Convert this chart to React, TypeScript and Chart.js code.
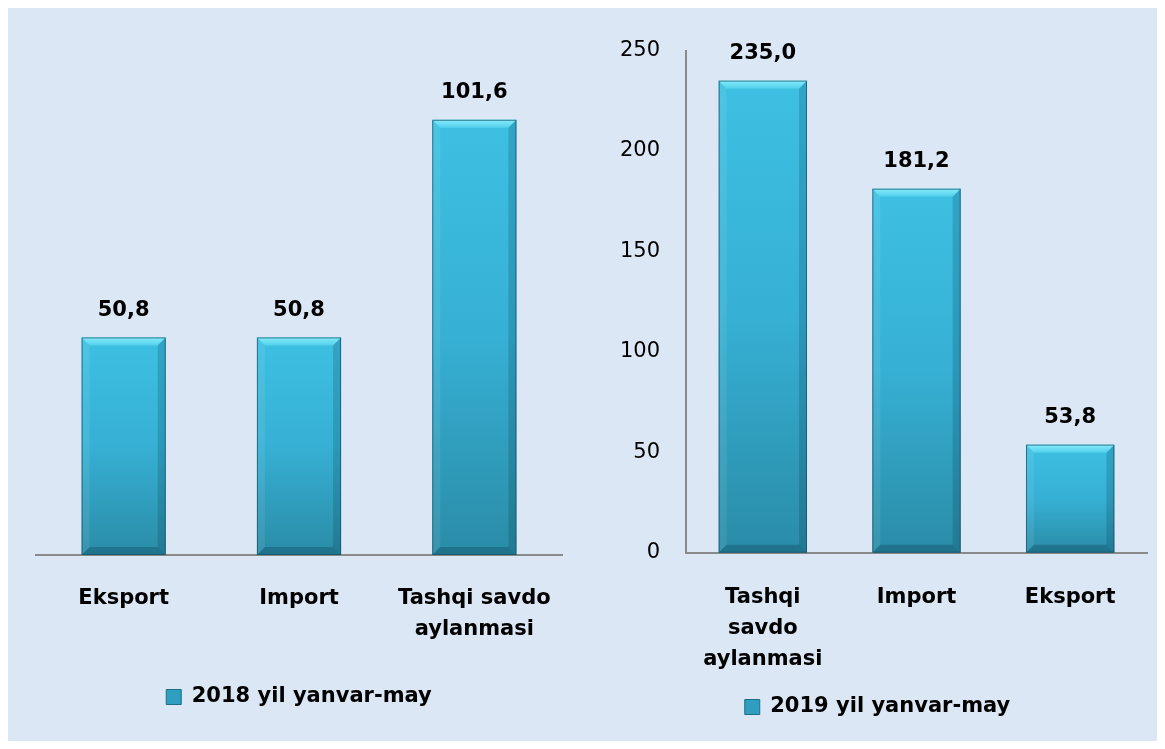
import React, { useEffect, useRef } from "react";
import { Chart, registerables } from "chart.js";

Chart.register(...registerables);

// ---- Data ----
const leftCategories: (string | string[])[] = ["Eksport", "Import", ["Tashqi savdo", "aylanmasi"]];
const leftValues: number[] = [50.8, 50.8, 101.6];
const leftSeriesName = "2018 yil yanvar-may";
const leftAxisMax = 120;

const rightCategories: (string | string[])[] = [["Tashqi", "savdo", "aylanmasi"], "Import", "Eksport"];
const rightValues: number[] = [235.0, 181.2, 53.8];
const rightSeriesName = "2019 yil yanvar-may";
const rightAxisMax = 250;
const rightTickStep = 50;

// ---- Styles ----
const BG = "#dbe7f4";
const AXIS = "#8a8a8a";
const LABEL_FONT = "DejaVu Sans";

function fmt(v: number) {
  return v.toFixed(1).replace(".", ",");
}

const barFill = (ctx: any) => {
  const chart = ctx.chart;
  if (ctx.type !== "data" || !chart.chartArea) return "#33a9cc";
  const y = chart.scales.y;
  const top = y.getPixelForValue(ctx.raw);
  const bottom = y.getPixelForValue(0);
  const g = chart.ctx.createLinearGradient(0, top, 0, bottom);
  g.addColorStop(0, "#3dc0e3");
  g.addColorStop(0.5, "#36b0d4");
  g.addColorStop(1, "#2a8ca7");
  return g;
};

const bevelPlugin = {
  id: "bevel",
  afterDatasetsDraw(chart: any) {
    const c = chart.ctx;
    chart.getSortedVisibleDatasetMetas().forEach((meta: any) => {
      meta.data.forEach((bar: any) => {
        const { x, y, base, width } = bar.getProps(["x", "y", "base", "width"], true);
        const l = x - width / 2;
        const r = x + width / 2;
        const t = Math.min(y, base);
        const b = Math.max(y, base);
        const s = 8;
        c.save();
        // top bevel
        let g = c.createLinearGradient(0, t, 0, t + s);
        g.addColorStop(0, "#86ecfb");
        g.addColorStop(1, "#52d0ec");
        c.fillStyle = g;
        c.beginPath();
        c.moveTo(l, t);
        c.lineTo(r, t);
        c.lineTo(r - s, t + s);
        c.lineTo(l + s, t + s);
        c.closePath();
        c.fill();
        // left bevel
        c.fillStyle = "rgba(255,255,255,0.08)";
        c.beginPath();
        c.moveTo(l, t);
        c.lineTo(l + s, t + s);
        c.lineTo(l + s, b - s);
        c.lineTo(l, b);
        c.closePath();
        c.fill();
        // right bevel
        c.fillStyle = "rgba(0,40,60,0.18)";
        c.beginPath();
        c.moveTo(r, t);
        c.lineTo(r - s, t + s);
        c.lineTo(r - s, b - s);
        c.lineTo(r, b);
        c.closePath();
        c.fill();
        // bottom bevel
        c.fillStyle = "rgba(0,40,60,0.25)";
        c.beginPath();
        c.moveTo(l, b);
        c.lineTo(l + s, b - s);
        c.lineTo(r - s, b - s);
        c.lineTo(r, b);
        c.closePath();
        c.fill();
        // outline
        c.strokeStyle = "rgba(20,80,100,0.7)";
        c.lineWidth = 1;
        c.strokeRect(l + 0.5, t + 0.5, width - 1, b - t - 1);
        c.restore();
      });
    });
  },
};

const valueLabelPlugin = {
  id: "valueLabels",
  afterDatasetsDraw(chart: any) {
    const c = chart.ctx;
    c.save();
    c.font = `bold 21px "${LABEL_FONT}"`;
    c.fillStyle = "#000";
    c.textAlign = "center";
    c.textBaseline = "middle";
    chart.getSortedVisibleDatasetMetas().forEach((meta: any) => {
      const data = chart.data.datasets[meta.index].data;
      meta.data.forEach((bar: any, i: number) => {
        const { x, y } = bar.getProps(["x", "y"], true);
        c.fillText(fmt(data[i] as number), x, y - 27);
      });
    });
    c.restore();
  },
};

function legendLabels(chart: any) {
  return chart.data.datasets.map((ds: any, i: number) => ({
    text: ds.label,
    fillStyle: "#2f9ec0",
    strokeStyle: "#1d6f86",
    lineWidth: 1,
    fontColor: "#000",
    hidden: false,
    datasetIndex: i,
  }));
}

function makeConfig(opts: {
  labels: (string | string[])[];
  values: number[];
  name: string;
  max: number;
  step?: number;
  showY: boolean;
  barPct: number;
  padding: { left: number; right: number; top: number; bottom: number };
  xHeight: number;
  xPad: number;
  yWidth?: number;
}): any {
  return {
    type: "bar",
    data: {
      labels: opts.labels,
      datasets: [
        {
          label: opts.name,
          data: opts.values,
          backgroundColor: barFill,
          borderWidth: 0,
          barPercentage: opts.barPct,
          categoryPercentage: 1,
        },
      ],
    },
    options: {
      responsive: false,
      animation: false,
      devicePixelRatio: 1,
      layout: { padding: opts.padding },
      plugins: {
        tooltip: { enabled: false },
        legend: {
          display: true,
          position: "bottom",
          labels: {
            font: { family: LABEL_FONT, size: 21, weight: "bold" },
            color: "#000",
            boxWidth: 15,
            boxHeight: 15,
            padding: 10,
            generateLabels: legendLabels,
          },
        },
      },
      scales: {
        x: {
          grid: { display: false, drawTicks: false },
          border: { display: true, color: AXIS, width: 2 },
          ticks: {
            color: "#000",
            padding: opts.xPad,
            maxRotation: 0,
            autoSkip: false,
            font: { family: LABEL_FONT, size: 21, weight: "bold", lineHeight: 1.48 },
          },
          afterFit: (s: any) => {
            s.height = opts.xHeight;
          },
        },
        y: {
          display: opts.showY,
          min: 0,
          max: opts.max,
          grid: { display: false, drawTicks: false },
          border: { display: true, color: AXIS, width: 2 },
          ticks: {
            stepSize: opts.step,
            color: "#000",
            padding: 26,
            font: { family: LABEL_FONT, size: 21 },
          },
          afterFit: (s: any) => {
            if (opts.yWidth !== undefined) s.width = opts.yWidth;
          },
        },
      },
    },
    plugins: [bevelPlugin, valueLabelPlugin],
  };
}

function BarChart(props: { config: any; width: number; height: number; left: number }) {
  const ref = useRef<HTMLCanvasElement | null>(null);
  useEffect(() => {
    if (!ref.current) return;
    const chart = new Chart(ref.current, props.config);
    return () => chart.destroy();
  }, []);
  return (
    <canvas
      ref={ref}
      width={props.width}
      height={props.height}
      style={{ position: "absolute", left: props.left, top: 0, width: props.width, height: props.height }}
    />
  );
}

export default function App() {
  const leftConfig = makeConfig({
    labels: leftCategories,
    values: leftValues,
    name: leftSeriesName,
    max: leftAxisMax,
    showY: false,
    barPct: 0.48,
    padding: { left: 28, right: 26, top: 33, bottom: 23.5 },
    xHeight: 121.5,
    xPad: 28,
  });
  const rightConfig = makeConfig({
    labels: rightCategories,
    values: rightValues,
    name: rightSeriesName,
    max: rightAxisMax,
    step: rightTickStep,
    showY: true,
    barPct: 0.575,
    padding: { left: 18, right: 10, top: 42.5, bottom: 13.5 },
    xHeight: 133.8,
    xPad: 29,
    yWidth: 78,
  });
  return (
    <div
      style={{
        position: "relative",
        width: 1149,
        height: 733,
        background: BG,
        overflow: "hidden",
      }}
    >
      <BarChart config={leftConfig} width={580} height={733} left={0} />
      <BarChart config={rightConfig} width={567} height={733} left={582} />
    </div>
  );
}
